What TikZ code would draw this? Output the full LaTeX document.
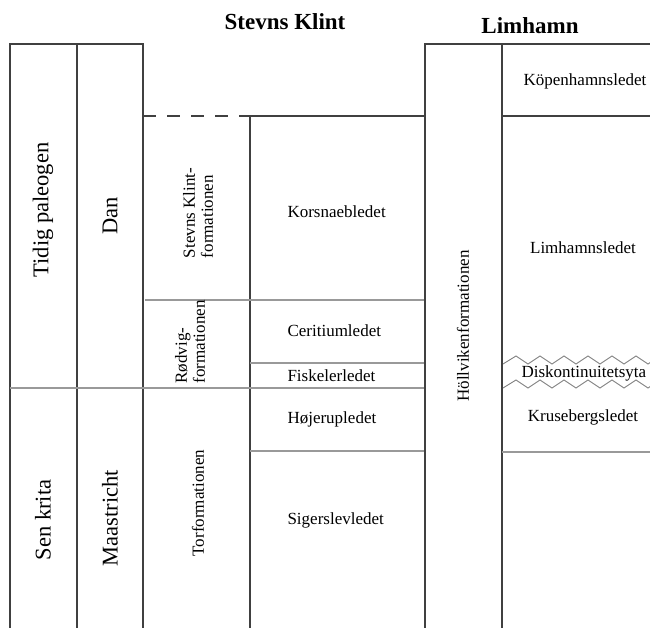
\documentclass[tikz,border=0pt]{standalone}
\usepackage{fontspec}
\setmainfont{Liberation Serif}

\begin{document}
\begin{tikzpicture}[x=1pt,y=-1pt,
  mainline/.style={draw=black!75,line width=1.4pt},
  subline/.style={draw=black!40,line width=1.2pt},
  wavy/.style={draw=black!50,line width=0.9pt,line join=miter},
  head/.style={font=\fontsize{23}{25}\selectfont\bfseries},
  epoch/.style={font=\fontsize{22.5}{24}\selectfont,rotate=90},
  unit/.style={font=\fontsize{17}{18}\selectfont},
  fmn/.style={unit,rotate=90,align=left},
  ]
\useasboundingbox (0,0) rectangle (650,628);
% left columns
\draw[mainline] (10,628) -- (10,44) -- (143,44) -- (143,628);
\draw[mainline] (77,44) -- (77,628);
% Stevns Klint
\draw[mainline,dash pattern=on 13pt off 11pt] (143,116) -- (250,116);
\draw[mainline] (250,628) -- (250,116) -- (425,116);
\draw[subline] (145,300) -- (425,300);
\draw[subline] (250,363) -- (425,363);
\draw[subline] (10,388) -- (425,388);
\draw[subline] (250,451) -- (425,451);
% Limhamn
\draw[mainline] (425,628) -- (425,44) -- (650,44);
\draw[mainline] (502,44) -- (502,628);
\draw[mainline] (502,116) -- (650,116);
\draw[subline] (502,452) -- (650,452);
% unconformity
\draw[wavy] (503,364) \foreach \x in {516,540,...,660} {-- (\x,356) -- ({\x+12},364)};
\draw[wavy] (503,388) \foreach \x in {516,540,...,660} {-- (\x,380) -- ({\x+12},388)};

\node[head] (stevns) at (285,22) {Stevns Klint};
\node[head] (limhamn) at (530,26) {Limhamn};

\node[epoch] (tidig) at (43,210) {Tidig paleogen};
\node[epoch] (dan) at (110,216) {Dan};
\node[epoch] (senkrita) at (43,520) {Sen krita};
\node[epoch] (maastr) at (110,518) {Maastricht};

\node[fmn] (skfm) at (198,213) {Stevns Klint-\\formationen};
\node[fmn] (rodfm) at (190,342) {Rødvig-\\formationen};
\node[fmn] (torfm) at (198,503) {Torformationen};
\node[fmn] (hollfm) at (463,326) {Höllvikenformationen};

\node[unit,anchor=west] (korsn) at (284,212) {Korsnaebledet};
\node[unit,anchor=west] (cerit) at (284,331) {Ceritiumledet};
\node[unit,anchor=west] (fisk) at (284,376) {Fiskelerledet};
\node[unit,anchor=west] (hojer) at (284,419) {Højerupledet};
\node[unit,anchor=west] (siger) at (284,520) {Sigerslevledet};

\node[unit] (kopen) at (585,81) {Köpenhamnsledet};
\node[unit] (limled) at (583,248) {Limhamnsledet};
\node[unit,anchor=west] (disk) at (518,373) {Diskontinuitetsyta};
\node[unit] (kruse) at (583,417) {Krusebergsledet};
\end{tikzpicture}
\end{document}
